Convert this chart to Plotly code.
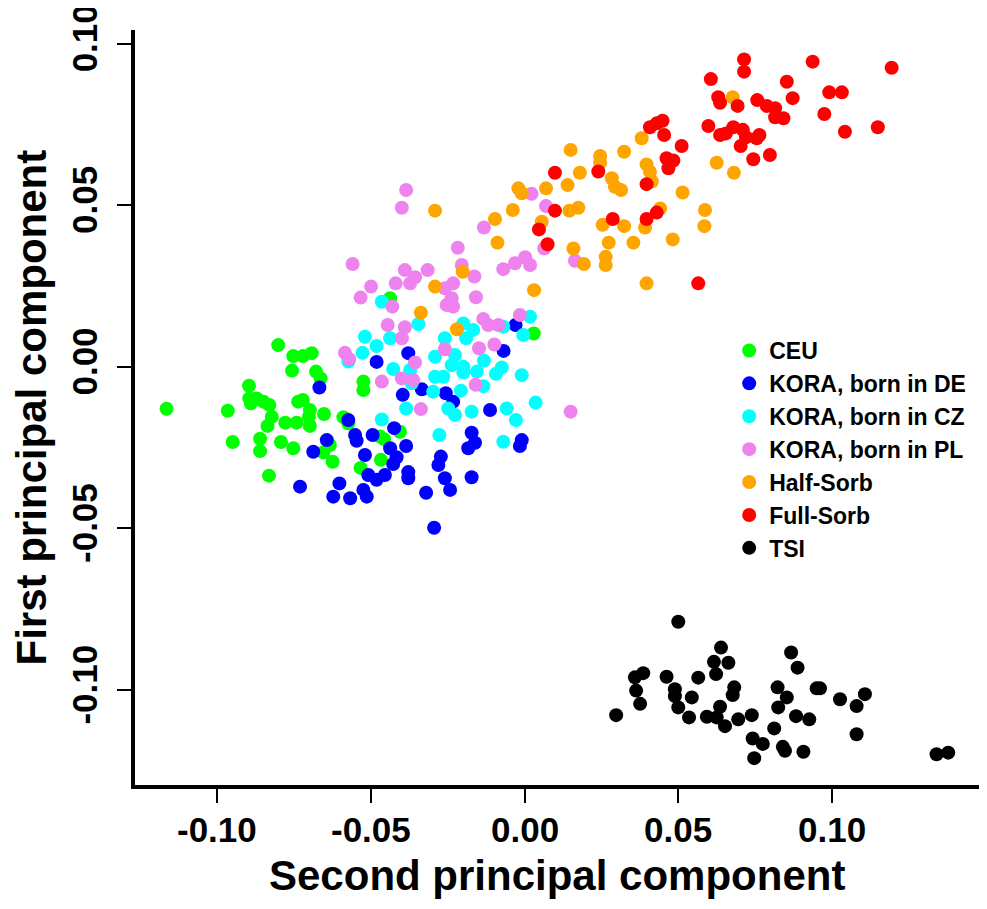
import plotly.graph_objects as go

# ---- data (PC2 = x, PC1 = y) ----
ceu_x = [-0.0801,-0.0752,-0.0721,-0.0692,-0.0756,-0.0678,-0.0663,-0.0896,-0.0524,-0.0524,-0.0895,-0.0871,-0.0890,-0.0849,-0.0830,-0.1164,-0.0965,-0.0736,-0.0721,-0.0698,-0.0652,-0.0822,-0.0701,-0.0836,-0.0778,-0.0741,-0.0698,-0.0589,-0.0573,-0.0949,-0.0860,-0.0860,-0.0792,-0.0752,-0.0654,-0.0624,-0.0831,-0.0533,-0.0467,-0.0457,-0.0470,-0.0405,-0.0633,-0.0437,0.0030]
ceu_y = [0.0067,0.0033,0.0033,0.0042,-0.0012,-0.0015,-0.0036,-0.0059,-0.0046,-0.0072,-0.0098,-0.0098,-0.0113,-0.0108,-0.0118,-0.0130,-0.0136,-0.0108,-0.0103,-0.0134,-0.0146,-0.0155,-0.0155,-0.0183,-0.0173,-0.0173,-0.0183,-0.0156,-0.0175,-0.0233,-0.0223,-0.0261,-0.0233,-0.0252,-0.0265,-0.0294,-0.0337,-0.0313,-0.0288,-0.0224,-0.0216,-0.0201,-0.0242,0.0212,0.0103]

de_x = [-0.0481,-0.0667,-0.0396,-0.0334,-0.0256,-0.0232,-0.0112,-0.0573,-0.0551,-0.0546,-0.0494,-0.0424,-0.0643,-0.0687,-0.0437,-0.0385,-0.0519,-0.0416,-0.0427,-0.0172,-0.0161,-0.0183,-0.0009,-0.0015,-0.0272,-0.0280,-0.0508,-0.0481,-0.0454,-0.0378,-0.0259,-0.0172,-0.0730,-0.0602,-0.0524,-0.0513,-0.0622,-0.0567,-0.0320,-0.0242,-0.0294,-0.0378,-0.0029,-0.0068,-0.0378]
de_y = [0.0015,-0.0064,-0.0087,-0.0070,-0.0082,-0.0108,-0.0134,-0.0165,-0.0211,-0.0229,-0.0211,-0.0190,-0.0227,-0.0263,-0.0252,-0.0245,-0.0273,-0.0280,-0.0301,-0.0204,-0.0235,-0.0252,-0.0227,-0.0245,-0.0278,-0.0304,-0.0335,-0.0350,-0.0335,-0.0345,-0.0345,-0.0342,-0.0371,-0.0361,-0.0381,-0.0402,-0.0402,-0.0407,-0.0390,-0.0381,-0.0498,0.0042,0.0129,0.0049,-0.0326]

cz_x = [-0.0464,-0.0345,-0.0519,-0.0481,-0.0437,-0.0527,-0.0573,-0.0427,-0.0291,-0.0259,-0.0199,-0.0167,-0.0190,-0.0226,-0.0237,-0.0199,-0.0199,-0.0155,-0.0132,-0.0074,-0.0093,-0.0069,-0.0004,0.0018,-0.0009,-0.0291,-0.0264,-0.0297,-0.0207,-0.0134,-0.0385,-0.0248,-0.0226,-0.0172,-0.0058,0.0036,-0.0028,-0.0464,-0.0372,-0.0367,-0.0277,-0.0069]
cz_y = [0.0201,0.0132,0.0093,0.0064,0.0088,0.0043,0.0016,-0.0007,0.0031,0.0088,0.0134,0.0114,0.0088,0.0036,0.0005,0.0000,-0.0017,-0.0015,0.0019,-0.0002,-0.0022,0.0124,0.0098,0.0155,-0.0026,-0.0031,-0.0031,-0.0077,-0.0074,-0.0060,-0.0129,-0.0129,-0.0149,-0.0139,-0.0129,-0.0111,-0.0165,-0.0163,-0.0010,-0.0051,-0.0211,-0.0232]

pl_x = [-0.0385,-0.0399,0.0023,0.0070,-0.0132,-0.0217,0.0064,0.0164,-0.0559,-0.0389,-0.0356,-0.0372,-0.0315,-0.0204,-0.0163,-0.0069,-0.0031,0.0002,0.0018,-0.0499,-0.0419,-0.0533,-0.0430,-0.0259,-0.0232,-0.0237,-0.0253,-0.0232,-0.0158,-0.0445,-0.0389,-0.0399,-0.0134,-0.0118,-0.0085,-0.0015,-0.0259,-0.0148,-0.0098,-0.0584,-0.0570,-0.0356,-0.0464,-0.0399,-0.0362,-0.0159,-0.0337,0.0150]
pl_y = [0.0547,0.0492,0.0535,0.0497,0.0431,0.0368,0.0366,0.0328,0.0318,0.0299,0.0277,0.0258,0.0299,0.0315,0.0279,0.0302,0.0320,0.0339,0.0315,0.0248,0.0258,0.0214,0.0186,0.0243,0.0258,0.0212,0.0191,0.0186,0.0215,0.0129,0.0122,0.0088,0.0148,0.0129,0.0129,0.0160,0.0054,0.0057,0.0069,0.0043,0.0023,0.0013,-0.0046,-0.0036,-0.0041,-0.0056,-0.0131,-0.0139]

half_x = [0.0150,0.0246,0.0246,0.0324,0.0381,0.0397,0.0408,0.0414,0.0180,0.0284,0.0294,0.0314,0.0140,0.0070,-0.0020,-0.0009,0.0514,-0.0291,-0.0038,-0.0096,0.0146,0.0175,0.0441,0.0056,0.0254,0.0324,0.0392,-0.0088,0.0159,0.0274,0.0354,0.0482,0.0264,0.0264,0.0193,-0.0201,-0.0291,0.0031,0.0397,0.0585,0.0587,-0.0337,-0.0220,0.0677,0.0625,0.0681]
half_y = [0.0671,0.0652,0.0631,0.0665,0.0707,0.0626,0.0603,0.0573,0.0600,0.0583,0.0557,0.0547,0.0562,0.0552,0.0552,0.0537,0.0539,0.0483,0.0485,0.0457,0.0483,0.0492,0.0490,0.0449,0.0439,0.0435,0.0431,0.0384,0.0366,0.0384,0.0384,0.0394,0.0340,0.0315,0.0318,0.0294,0.0248,0.0237,0.0258,0.0435,0.0485,0.0167,0.0116,0.0834,0.0631,0.0600]

full_x = [0.0714,0.0714,0.0937,0.1194,0.0606,0.0853,0.0630,0.0636,0.0693,0.0757,0.0788,0.0815,0.0872,0.0815,0.0842,0.0991,0.1032,0.0975,0.1042,0.1149,0.0598,0.0636,0.0655,0.0679,0.0710,0.0720,0.0755,0.0764,0.0703,0.0744,0.0798,0.0449,0.0408,0.0430,0.0454,0.0511,0.0462,0.0484,0.0468,0.0397,0.0099,0.0240,0.0099,0.0047,0.0075,0.0287,0.0397,0.0430,0.0565]
full_y = [0.0951,0.0913,0.0944,0.0925,0.0890,0.0882,0.0834,0.0817,0.0807,0.0825,0.0807,0.0800,0.0831,0.0772,0.0769,0.0849,0.0849,0.0782,0.0727,0.0741,0.0745,0.0717,0.0722,0.0741,0.0733,0.0710,0.0707,0.0717,0.0683,0.0642,0.0655,0.0761,0.0741,0.0753,0.0717,0.0683,0.0645,0.0638,0.0614,0.0565,0.0600,0.0604,0.0483,0.0425,0.0379,0.0457,0.0457,0.0477,0.0258]

tsi_x = [0.0500,0.0639,0.0616,0.0663,0.0623,0.0867,0.0888,0.0359,0.0386,0.0462,0.0565,0.0363,0.0489,0.0489,0.0544,0.0682,0.0677,0.0823,0.0950,0.0961,0.0376,0.0500,0.0636,0.0853,0.0825,0.1026,0.1107,0.1080,0.0298,0.0535,0.0593,0.0625,0.0652,0.0695,0.0739,0.0883,0.0926,0.0812,0.1080,0.0742,0.0775,0.0840,0.0847,0.0907,0.0747,0.1340,0.1378]
tsi_y = [-0.0789,-0.0869,-0.0913,-0.0916,-0.0951,-0.0884,-0.0931,-0.0961,-0.0948,-0.0959,-0.0962,-0.1002,-0.0998,-0.1019,-0.1023,-0.0992,-0.1016,-0.0992,-0.0995,-0.0995,-0.1043,-0.1054,-0.1052,-0.1023,-0.1054,-0.1029,-0.1013,-0.1050,-0.1078,-0.1085,-0.1083,-0.1085,-0.1112,-0.1091,-0.1078,-0.1081,-0.1091,-0.1119,-0.1137,-0.1150,-0.1167,-0.1176,-0.1188,-0.1191,-0.1211,-0.1199,-0.1194]

group_names = ["CEU", "KORA, born in DE", "KORA, born in CZ", "KORA, born in PL", "Half-Sorb", "Full-Sorb", "TSI"]
group_colors = ["#00FF00", "#0000FF", "#00FFFF", "#EE82EE", "#FFA500", "#FF0000", "#000000"]
group_x = [ceu_x, de_x, cz_x, pl_x, half_x, full_x, tsi_x]
group_y = [ceu_y, de_y, cz_y, pl_y, half_y, full_y, tsi_y]

x_ticks = [-0.10, -0.05, 0.00, 0.05, 0.10]
x_tick_labels = ["-0.10", "-0.05", "0.00", "0.05", "0.10"]
y_ticks = [-0.10, -0.05, 0.00, 0.05, 0.10]
y_tick_labels = ["-0.10", "-0.05", "0.00", "0.05", "0.10"]

FONT = "Liberation Sans, Arial, Helvetica, sans-serif"

fig = go.Figure()
for name, col, xs, ys in zip(group_names, group_colors, group_x, group_y):
    fig.add_trace(go.Scatter(
        x=xs, y=ys, mode="markers", name=name,
        marker=dict(color=col, size=14, line=dict(width=0)),
    ))

# x tick labels placed just below the ticks, at the tick values
annotations = [
    dict(text=lab, xref="x", yref="paper", x=v, y=-0.0593,
         xanchor="center", yanchor="middle", showarrow=False,
         font=dict(family=FONT, size=35, color="black", weight="bold"))
    for v, lab in zip(x_ticks, x_tick_labels)
]
annotations += [
    dict(text="Second principal component", xref="paper", yref="paper",
         x=0.5, y=-0.1196, xanchor="center", yanchor="middle", showarrow=False,
         font=dict(family=FONT, size=42, color="black", weight="bold")),
    dict(text="First principal component", xref="paper", yref="paper",
         x=-0.1232, y=0.5, xanchor="center", yanchor="middle", showarrow=False,
         textangle=-90,
         font=dict(family=FONT, size=42, color="black", weight="bold")),
]

fig.update_layout(
    width=987, height=909,
    margin=dict(l=127, r=16, t=22, b=132, autoexpand=False),
    paper_bgcolor="white", plot_bgcolor="white",
    font=dict(family=FONT, color="black", weight="bold"),
    showlegend=True,
    legend=dict(
        x=0.704, y=0.604, xanchor="left", yanchor="top",
        font=dict(family=FONT, size=23, color="black", weight="bold"),
        bgcolor="rgba(0,0,0,0)", tracegroupgap=0, itemsizing="trace",
    ),
    xaxis=dict(
        range=[-0.12667, 0.1478], showgrid=False, zeroline=False, automargin=False,
        showline=True, linewidth=4, linecolor="black", mirror=False,
        ticks="outside", ticklen=14, tickwidth=2, tickcolor="black",
        tickvals=x_ticks, showticklabels=False,
    ),
    yaxis=dict(
        range=[-0.12941, 0.10419], showgrid=False, zeroline=False, automargin=False,
        showline=True, linewidth=4, linecolor="black", mirror=False,
        ticks="outside", ticklen=14, tickwidth=2, tickcolor="black",
        tickvals=y_ticks, ticktext=y_tick_labels, tickangle=-90,
        tickfont=dict(family=FONT, size=35, color="black", weight="bold"),
        ticklabelstandoff=6, ticklabeloverflow="allow",
    ),
    annotations=annotations,
)

fig.write_html("out.html")
